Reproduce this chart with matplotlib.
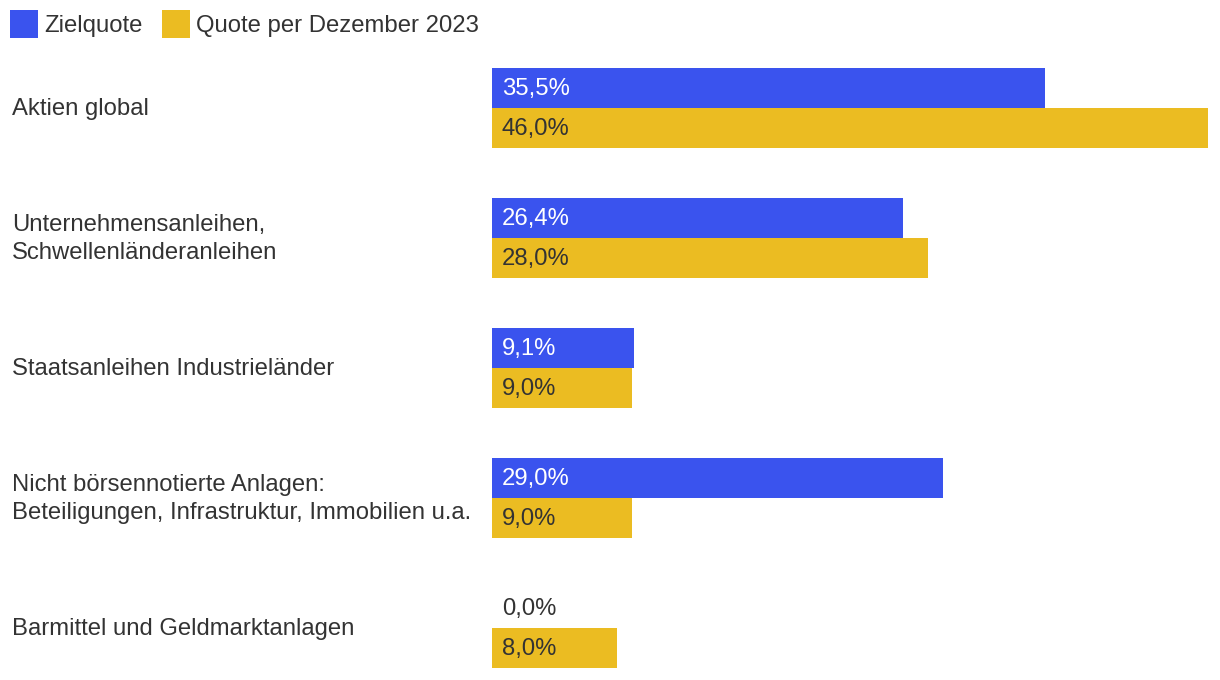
import matplotlib
matplotlib.use("Agg")
import matplotlib.pyplot as plt
from matplotlib.patches import Rectangle

plt.rcParams['font.family'] = ['Liberation Sans', 'DejaVu Sans']

categories = [
    "Aktien global",
    "Unternehmensanleihen,\nSchwellenländeranleihen",
    "Staatsanleihen Industrieländer",
    "Nicht börsennotierte Anlagen:\nBeteiligungen, Infrastruktur, Immobilien u.a.",
    "Barmittel und Geldmarktanlagen",
]
zielquote = [35.5, 26.4, 9.1, 29.0, 0.0]
quote_dez = [46.0, 28.0, 9.0, 9.0, 8.0]
series_names = ["Zielquote", "Quote per Dezember 2023"]

BLUE = "#3A53EE"
YELLOW = "#EBBC22"
TEXT = "#333333"
FS = 17.2

W, H = 1220, 680
fig = plt.figure(figsize=(W / 100, H / 100), dpi=100)
ax = fig.add_axes([492 / W, 1 - 668 / H, (1208 - 492) / W, 600 / H])

step = 130
bh = 40
for i, (a, b) in enumerate(zip(zielquote, quote_dez)):
    c = i * step
    ax.barh(c - bh / 2, a, height=bh, color=BLUE, linewidth=0)
    ax.barh(c + bh / 2, b, height=bh, color=YELLOW, linewidth=0)
    fmt = lambda v: f"{v:.1f}%".replace(".", ",")
    ax.annotate(fmt(a), (0, c - bh / 2), xytext=(10, -1), textcoords="offset pixels",
                va="center", ha="left", fontsize=FS,
                color="white" if a > 0 else TEXT)
    ax.annotate(fmt(b), (0, c + bh / 2), xytext=(10, -1), textcoords="offset pixels",
                va="center", ha="left", fontsize=FS, color=TEXT)
    fig.text(12 / W, 1 - (69 + 40 + i * step) / H, categories[i], ha="left", va="center",
             fontsize=FS, color=TEXT, linespacing=1.4)

ax.set_xlim(0, 46.0)
ax.set_ylim(4 * step + 40, -40)
ax.axis("off")

# legend
for x0, name, col in [(10, series_names[0], BLUE), (162, series_names[1], YELLOW)]:
    fig.patches.append(Rectangle((x0 / W, 1 - 38 / H), 28 / W, 28 / H,
                                 transform=fig.transFigure, color=col, linewidth=0))
    fig.text((x0 + 34) / W, 1 - 26 / H, name, ha="left", va="center", fontsize=FS, color=TEXT)

fig.savefig("out.png", dpi=100)
